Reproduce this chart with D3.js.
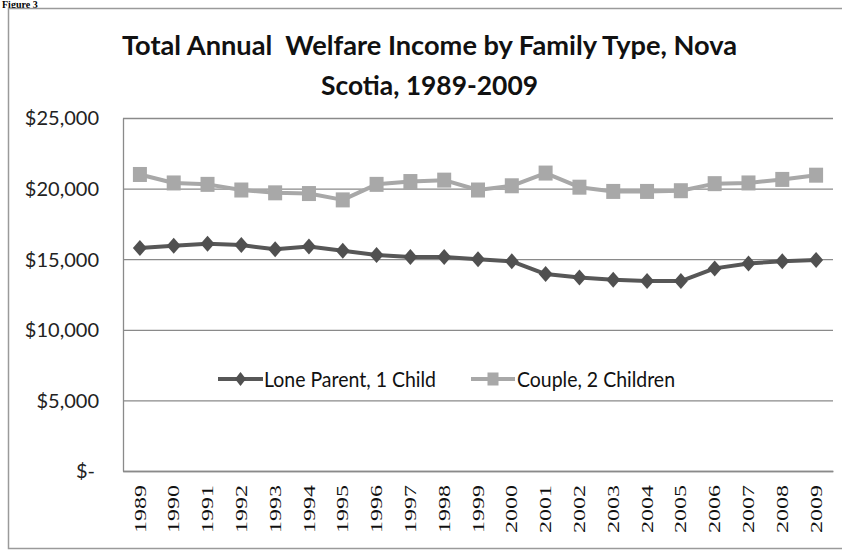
<!DOCTYPE html>
<html>
<head>
<meta charset="utf-8">
<script src="https://cdn.jsdelivr.net/npm/d3@7"></script>
<style>
  html, body { margin: 0; padding: 0; background: #fff; }
  svg { display: block; }
</style>
</head>
<body>
<script>
// ---- data ----
const years = ["1989","1990","1991","1992","1993","1994","1995","1996","1997","1998","1999",
               "2000","2001","2002","2003","2004","2005","2006","2007","2008","2009"];
const loneParent = [15800, 15950, 16100, 16000, 15700, 15900, 15600, 15300, 15150, 15150, 15000,
                    14850, 13950, 13700, 13550, 13450, 13450, 14350, 14700, 14850, 14950];
const couple = [21000, 20400, 20300, 19900, 19700, 19650, 19200, 20300, 20500, 20600, 19900,
                20200, 21100, 20100, 19800, 19800, 19850, 20350, 20400, 20650, 20950];
const yTicks = [0, 5000, 10000, 15000, 20000, 25000];
const yTickLabels = ["$-", "$5,000", "$10,000", "$15,000", "$20,000", "$25,000"];
const seriesNames = ["Lone Parent, 1 Child", "Couple, 2 Children"];
const titleLines = ["Total Annual  Welfare Income by Family Type, Nova", "Scotia, 1989-2009"];

// ---- layout ----
const W = 842, H = 554;
const plot = { left: 123, right: 833, top: 118, bottom: 471 };
const darkCol = "#575757", lightCol = "#a8a8a8", gridCol = "#8a8a8a";
const font = "Lato, 'Open Sans', sans-serif";

const svg = d3.select("body").append("svg").attr("width", W).attr("height", H);

// small "Figure 3" heading at top-left
svg.append("text").attr("x", 2).attr("y", 7.5)
  .attr("font-family", "'Liberation Serif', 'Times New Roman', serif")
  .attr("font-weight", "bold").attr("font-size", 10).attr("fill", "#000")
  .text("Figure 3");

// chart frame
svg.append("rect").attr("x", 8.5).attr("y", 8.5).attr("width", W).attr("height", 540)
  .attr("fill", "#fff").attr("stroke", "#9a9a9a").attr("stroke-width", 1.5);

// title
const titleY = [54.5, 95];
const titleLen = [615, 217];
titleLines.forEach((t, i) => {
  svg.append("text").attr("x", 429.5).attr("y", titleY[i])
    .attr("text-anchor", "middle")
    .style("white-space", "pre")
    .attr("font-family", font).attr("font-weight", "bold").attr("font-size", 27)
    .attr("fill", "#111")
    .attr("textLength", titleLen[i]).attr("lengthAdjust", "spacingAndGlyphs")
    .text(t);
});

// scales
const x = d3.scaleBand().domain(years).range([plot.left, plot.right]).padding(0);
const cx = d => x(d) + x.bandwidth() / 2;
const y = d3.scaleLinear().domain([0, 25000]).range([plot.bottom, plot.top]);

// y axis with gridlines
const yAxis = d3.axisLeft(y).tickValues(yTicks)
  .tickFormat((d, i) => yTickLabels[i])
  .tickSizeInner(-(plot.right - plot.left)).tickSizeOuter(0).tickPadding(24);
const gy = svg.append("g").attr("transform", `translate(${plot.left},0)`).call(yAxis);
gy.select(".domain").attr("stroke", gridCol).attr("stroke-width", 1.3);
gy.selectAll(".tick line").attr("stroke", gridCol).attr("stroke-width", 1.3);
gy.selectAll(".tick text")
  .attr("font-family", font).attr("font-size", 20).attr("fill", "#222")
  .attr("dy", "0.34em");
gy.selectAll(".tick").filter(d => d === 0).select("text").attr("x", -28);

// x axis
const xAxis = d3.axisBottom(x).tickSize(0).tickPadding(0);
const gx = svg.append("g").attr("transform", `translate(0,${plot.bottom})`).call(xAxis);
gx.select(".domain").attr("stroke", gridCol).attr("stroke-width", 1.3);
gx.selectAll(".tick text")
  .attr("font-family", "'Liberation Serif', 'Times New Roman', serif")
  .attr("font-size", 16).attr("fill", "#111")
  .attr("text-anchor", "end")
  .attr("transform", "translate(0,14) rotate(-90)")
  .attr("x", 0).attr("y", 0).attr("dy", "0.35em")
  .attr("textLength", 48).attr("lengthAdjust", "spacingAndGlyphs");

// lines
const line = d3.line().x((d, i) => cx(years[i])).y(d => y(d));
const g = svg.append("g");
g.append("path").datum(couple).attr("d", line)
  .attr("fill", "none").attr("stroke", lightCol).attr("stroke-width", 4).attr("stroke-linejoin", "round");
g.selectAll("rect.cm").data(couple).join("rect").attr("class", "cm")
  .attr("x", (d, i) => cx(years[i]) - 7).attr("y", d => y(d) - 7.5)
  .attr("width", 14).attr("height", 15).attr("fill", lightCol);

g.append("path").datum(loneParent).attr("d", line)
  .attr("fill", "none").attr("stroke", darkCol).attr("stroke-width", 4).attr("stroke-linejoin", "round");
const diamond = (px, py, hw, hh) => `M${px},${py - hh}L${px + hw},${py}L${px},${py + hh}L${px - hw},${py}Z`;
g.selectAll("path.lm").data(loneParent).join("path").attr("class", "lm")
  .attr("d", (d, i) => diamond(cx(years[i]), y(d), 7, 8))
  .attr("fill", "#505050");

// legend
const legY = 379;
const leg = svg.append("g");
const legItems = [
  { x0: 218, x1: 263, tx: 264, tl: 172, col: darkCol, marker: "diamond" },
  { x0: 471, x1: 515, tx: 517, tl: 158, col: lightCol, marker: "square" }
];
legItems.forEach((it, i) => {
  leg.append("line").attr("x1", it.x0).attr("x2", it.x1).attr("y1", legY).attr("y2", legY)
    .attr("stroke", it.col).attr("stroke-width", 4);
  const mx = (it.x0 + it.x1) / 2;
  if (it.marker === "diamond") {
    leg.append("path").attr("d", diamond(mx, legY, 5.5, 7)).attr("fill", "#505050");
  } else {
    leg.append("rect").attr("x", mx - 5.5).attr("y", legY - 6.5).attr("width", 11).attr("height", 13)
      .attr("fill", it.col);
  }
  leg.append("text").attr("x", it.tx).attr("y", 387)
    .attr("font-family", font).attr("font-size", 22).attr("fill", "#111")
    .attr("textLength", it.tl).attr("lengthAdjust", "spacingAndGlyphs")
    .text(seriesNames[i]);
});
</script>
</body>
</html>
